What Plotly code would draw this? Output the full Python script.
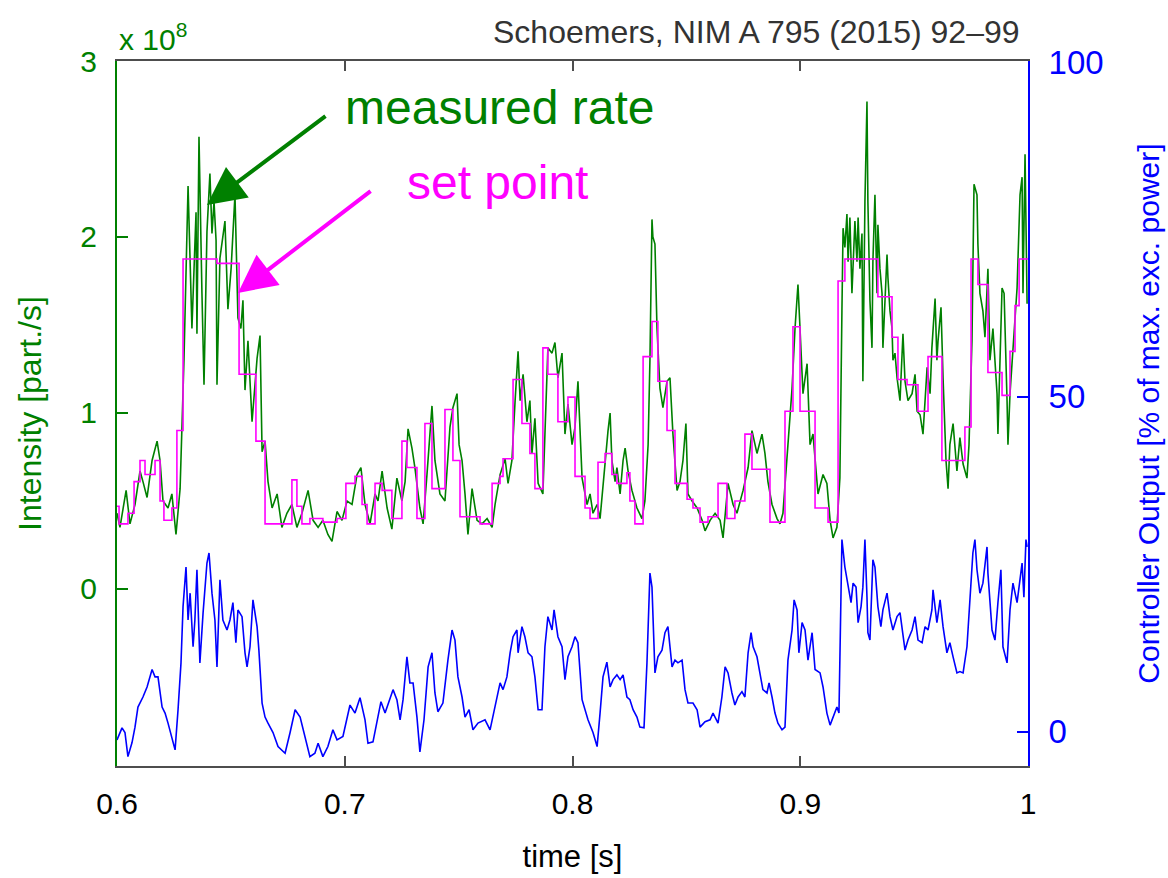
import plotly.graph_objects as go

# ---------------- data ----------------
# measured rate (units of 1e8 particles/s)
green_t = [0.6000,0.6013,0.6040,0.6057,0.6079,0.6101,0.6114,0.6132,0.6154,0.6176,0.6189,0.6202,0.6224,0.6241,0.6259,0.6277,
0.6294,0.6312,0.6329,0.6347,0.6351,0.6360,0.6373,0.6382,0.6395,0.6408,0.6417,0.6426,0.6435,0.6439,0.6452,0.6474,0.6487,0.6501,
0.6518,0.6531,0.6544,0.6553,0.6562,0.6575,0.6593,0.6615,0.6628,0.6637,0.6650,0.6663,0.6681,0.6703,0.6724,0.6746,0.6768,0.6790,
0.6812,0.6839,0.6861,0.6883,0.6904,0.6926,0.6944,0.6966,0.6988,0.7010,0.7032,0.7054,0.7071,0.7089,0.7111,0.7133,0.7146,0.7164,
0.7186,0.7207,0.7229,0.7251,0.7265,0.7278,0.7295,0.7308,0.7330,0.7344,0.7361,0.7383,0.7396,0.7418,0.7440,0.7462,0.7475,0.7493,
0.7502,0.7515,0.7528,0.7541,0.7559,0.7581,0.7603,0.7625,0.7647,0.7660,0.7682,0.7704,0.7717,0.7734,0.7748,0.7761,0.7770,0.7783,
0.7800,0.7813,0.7822,0.7835,0.7849,0.7870,0.7879,0.7892,0.7910,0.7923,0.7936,0.7954,0.7967,0.7980,0.7998,0.8011,0.8024,0.8042,
0.8064,0.8077,0.8090,0.8108,0.8121,0.8143,0.8156,0.8165,0.8173,0.8187,0.8195,0.8209,0.8222,0.8231,0.8244,0.8261,0.8283,0.8305,
0.8318,0.8332,0.8340,0.8349,0.8353,0.8362,0.8371,0.8384,0.8397,0.8415,0.8428,0.8441,0.8459,0.8472,0.8485,0.8498,0.8507,0.8525,
0.8547,0.8569,0.8582,0.8604,0.8626,0.8648,0.8661,0.8683,0.8705,0.8722,0.8749,0.8771,0.8788,0.8810,0.8832,0.8845,0.8858,0.8876,
0.8898,0.8911,0.8924,0.8946,0.8964,0.8977,0.8990,0.8999,0.9012,0.9030,0.9043,0.9056,0.9078,0.9100,0.9117,0.9131,0.9144,0.9161,
0.9174,0.9183,0.9188,0.9196,0.9205,0.9210,0.9218,0.9227,0.9232,0.9240,0.9249,0.9254,0.9262,0.9271,0.9275,0.9284,0.9293,0.9297,
0.9306,0.9315,0.9319,0.9328,0.9337,0.9341,0.9350,0.9359,0.9363,0.9372,0.9381,0.9385,0.9394,0.9403,0.9407,0.9416,0.9425,0.9438,
0.9447,0.9451,0.9460,0.9473,0.9491,0.9504,0.9513,0.9526,0.9539,0.9557,0.9570,0.9578,0.9592,0.9600,0.9605,0.9618,0.9627,0.9640,
0.9649,0.9657,0.9671,0.9688,0.9701,0.9715,0.9732,0.9741,0.9754,0.9763,0.9776,0.9780,0.9789,0.9802,0.9811,0.9824,0.9833,0.9846,
0.9864,0.9868,0.9886,0.9895,0.9908,0.9912,0.9921,0.9934,0.9952,0.9965,0.9974,0.9978,0.9987,0.9996]
green_v = [0.43,0.35,0.56,0.37,0.48,0.67,0.61,0.52,0.73,0.84,0.73,0.50,0.46,0.54,0.31,0.57,
1.30,2.29,1.48,2.14,1.45,2.57,1.68,1.16,2.03,2.36,2.02,2.20,1.98,1.16,1.88,2.09,1.59,1.82,
2.24,1.54,1.48,1.64,1.13,1.41,0.95,1.31,1.44,0.78,0.84,0.61,0.46,0.54,0.35,0.43,0.48,0.35,
0.43,0.56,0.39,0.35,0.39,0.31,0.27,0.44,0.39,0.50,0.48,0.65,0.69,0.48,0.37,0.54,0.50,0.67,
0.46,0.34,0.63,0.50,0.61,0.91,0.80,0.69,0.46,0.37,0.65,1.04,0.73,0.54,0.50,0.92,1.03,1.11,
0.82,0.73,0.54,0.31,0.57,0.39,0.37,0.40,0.35,0.48,0.65,0.74,0.60,0.73,1.07,1.35,1.07,1.22,
0.95,1.07,0.77,0.97,0.60,0.54,0.88,1.37,1.34,1.40,1.20,1.34,0.88,1.05,0.82,0.92,1.18,0.63,
0.48,0.54,0.43,0.48,0.40,0.73,0.90,1.00,0.73,0.61,0.69,0.54,0.73,0.80,0.67,0.56,0.46,0.40,
0.50,0.82,1.30,2.10,2.00,1.96,1.48,1.14,1.03,1.18,1.20,0.88,0.56,0.61,0.73,0.94,0.54,0.50,
0.46,0.39,0.33,0.39,0.43,0.39,0.29,0.60,0.48,0.43,0.56,0.69,0.90,0.77,0.88,0.77,0.61,0.48,
0.40,0.37,0.43,0.82,1.14,1.48,1.73,1.48,1.11,1.28,0.82,0.88,0.54,0.65,0.60,0.39,0.29,0.35,
0.63,1.58,2.05,1.94,2.13,1.86,2.11,1.68,1.82,2.09,1.86,2.11,1.82,2.02,1.18,2.20,2.77,2.20,
1.64,1.37,1.86,2.24,1.68,2.07,1.82,1.68,1.37,1.68,1.90,1.77,1.58,1.48,1.30,1.34,1.20,1.07,
1.30,1.45,1.18,1.07,1.11,1.22,1.01,0.99,0.88,1.26,1.11,1.37,1.65,1.30,1.41,1.60,1.20,0.73,
0.57,0.82,0.94,0.67,0.86,0.71,0.63,0.82,1.41,2.30,2.24,1.96,1.68,1.58,1.43,1.82,1.30,1.48,
1.11,0.88,1.71,1.68,1.07,0.82,1.11,1.34,1.71,2.24,2.34,1.68,2.47,1.62]

# set point (units of 1e8 particles/s), step changes
sp_t = [0.6000,0.6009,0.6048,0.6075,0.6101,0.6123,0.6167,0.6189,0.6206,0.6241,0.6263,0.6290,0.6439,0.6536,0.6610,0.6650,
0.6768,0.6790,0.6812,0.6847,0.6904,0.6966,0.7005,0.7045,0.7076,0.7098,0.7133,0.7164,0.7207,0.7251,0.7273,0.7317,0.7352,
0.7383,0.7440,0.7475,0.7506,0.7594,0.7647,0.7682,0.7695,0.7739,0.7778,0.7813,0.7835,0.7870,0.7892,0.7936,0.7980,0.8011,
0.8055,0.8077,0.8112,0.8143,0.8173,0.8195,0.8239,0.8252,0.8274,0.8310,0.8349,0.8375,0.8415,0.8450,0.8503,0.8529,0.8560,
0.8595,0.8639,0.8678,0.8713,0.8757,0.8788,0.8867,0.8933,0.8968,0.8999,0.9065,0.9122,0.9166,0.9196,0.9341,0.9403,0.9429,
0.9469,0.9517,0.9561,0.9622,0.9723,0.9750,0.9780,0.9824,0.9886,0.9921,0.9943,0.9961,1.0000]
sp_v = [0.47,0.37,0.43,0.61,0.73,0.65,0.73,0.50,0.39,0.46,0.90,1.875,1.85,1.22,0.84,0.37,
0.62,0.47,0.37,0.40,0.38,0.40,0.60,0.64,0.48,0.37,0.60,0.56,0.40,0.84,0.69,0.40,0.94,
0.57,1.02,0.73,0.41,0.37,0.60,0.64,0.74,1.19,0.94,0.77,0.57,1.37,1.22,0.95,1.09,0.64,
0.46,0.40,0.72,0.77,0.65,0.60,0.66,0.50,0.37,1.32,1.52,1.18,0.90,0.60,0.51,0.46,0.38,
0.41,0.60,0.40,0.50,0.88,0.68,0.38,1.01,1.49,1.01,0.46,0.38,1.75,1.875,1.66,1.43,1.19,
1.16,1.01,1.32,0.73,0.92,1.875,1.73,1.23,1.10,1.35,1.61,1.875,1.875]

# controller output (% of max. exc. power)
ctrl_t = [0.6000,0.6022,0.6035,0.6048,0.6066,0.6079,0.6092,0.6114,0.6132,0.6154,0.6167,0.6180,0.6198,0.6211,0.6224,0.6241,
0.6255,0.6268,0.6281,0.6290,0.6303,0.6312,0.6321,0.6334,0.6342,0.6351,0.6364,0.6378,0.6395,0.6404,0.6417,0.6430,0.6439,
0.6452,0.6465,0.6483,0.6496,0.6509,0.6522,0.6531,0.6549,0.6562,0.6571,0.6584,0.6597,0.6615,0.6623,0.6637,0.6650,0.6663,
0.6685,0.6707,0.6738,0.6760,0.6782,0.6804,0.6825,0.6847,0.6869,0.6883,0.6904,0.6926,0.6948,0.6966,0.6992,0.7023,0.7045,
0.7067,0.7089,0.7102,0.7124,0.7142,0.7159,0.7177,0.7190,0.7212,0.7229,0.7243,0.7256,0.7273,0.7286,0.7300,0.7317,0.7330,
0.7348,0.7366,0.7383,0.7396,0.7409,0.7431,0.7453,0.7471,0.7484,0.7497,0.7515,0.7528,0.7546,0.7563,0.7585,0.7616,0.7638,
0.7660,0.7682,0.7695,0.7712,0.7726,0.7739,0.7756,0.7761,0.7778,0.7791,0.7805,0.7822,0.7835,0.7849,0.7866,0.7879,0.7892,
0.7910,0.7919,0.7936,0.7954,0.7967,0.7980,0.7998,0.8011,0.8024,0.8042,0.8068,0.8090,0.8108,0.8121,0.8134,0.8151,0.8165,
0.8178,0.8195,0.8209,0.8222,0.8239,0.8252,0.8266,0.8283,0.8296,0.8314,0.8327,0.8340,0.8349,0.8353,0.8362,0.8375,0.8393,
0.8406,0.8419,0.8437,0.8450,0.8463,0.8481,0.8494,0.8507,0.8529,0.8547,0.8560,0.8582,0.8604,0.8617,0.8639,0.8656,0.8670,
0.8683,0.8700,0.8713,0.8727,0.8744,0.8757,0.8771,0.8784,0.8793,0.8810,0.8823,0.8836,0.8854,0.8863,0.8876,0.8889,0.8902,
0.8920,0.8933,0.8946,0.8964,0.8973,0.8986,0.8994,0.9008,0.9021,0.9034,0.9052,0.9065,0.9087,0.9100,0.9117,0.9131,0.9144,
0.9161,0.9170,0.9179,0.9183,0.9196,0.9210,0.9223,0.9232,0.9245,0.9254,0.9267,0.9275,0.9284,0.9293,0.9297,0.9306,0.9319,
0.9328,0.9341,0.9354,0.9363,0.9381,0.9394,0.9407,0.9425,0.9438,0.9447,0.9460,0.9473,0.9491,0.9504,0.9517,0.9535,0.9548,
0.9561,0.9578,0.9583,0.9600,0.9614,0.9627,0.9644,0.9657,0.9671,0.9688,0.9701,0.9715,0.9732,0.9745,0.9758,0.9767,0.9776,
0.9789,0.9802,0.9820,0.9824,0.9842,0.9855,0.9868,0.9881,0.9890,0.9908,0.9921,0.9934,0.9952,0.9960,0.9974,0.9982,0.9991,0.9996]
ctrl_v = [-1.2,0.6,-0.1,-3.7,-1.6,0.7,3.7,5.2,6.7,9.3,8.2,8.2,3.7,2.8,1.3,-0.7,
-2.7,3.3,10.3,18.7,24.6,16.7,20.7,12.7,16.7,24.2,10.3,17.8,25.2,26.7,20.7,16.7,9.7,
22.7,16.7,15.2,16.7,19.3,13.3,18.2,17.2,11.8,9.7,12.7,19.7,15.7,12.2,4.3,2.2,1.3,
-0.1,-2.2,-3.2,-0.1,3.3,2.2,-0.7,-3.7,-3.2,-1.7,-3.7,-2.2,0.3,-1.2,-0.7,4.0,2.8,
5.1,1.8,-1.7,-1.5,1.8,4.5,2.8,4.0,6.3,4.8,1.8,4.8,11.2,7.3,7.3,2.2,-3.0,
1.8,9.7,11.8,5.8,3.0,4.3,10.7,15.2,13.7,8.2,5.2,2.2,3.3,0.3,1.3,1.8,0.3,
3.7,7.3,6.3,8.2,11.8,14.2,15.2,11.8,15.7,14.2,11.8,11.2,8.2,3.3,3.3,12.7,17.2,
15.2,18.2,14.2,12.7,7.8,11.2,12.7,14.2,13.3,4.8,1.8,-0.1,-2.2,2.8,8.2,10.4,6.7,
7.8,8.5,7.8,8.5,5.2,4.8,3.3,2.2,0.7,0.6,10.3,23.7,21.6,17.8,8.8,11.2,12.2,
14.8,15.7,9.7,10.7,10.3,10.7,6.3,4.3,4.3,3.3,0.7,1.5,1.8,2.8,1.3,5.2,9.7,
8.8,5.8,4.0,5.2,6.0,5.2,11.8,14.8,12.7,11.2,8.8,6.3,5.8,7.3,5.2,2.8,1.3,
0.3,0.7,10.7,15.2,19.7,18.2,11.8,16.3,15.2,10.7,14.8,9.3,8.8,6.7,2.8,1.0,2.2,
3.7,2.8,19.7,28.7,24.6,21.6,19.3,22.2,21.6,16.3,18.7,21.6,28.7,20.1,14.8,13.7,25.7,
24.6,18.7,15.7,18.2,20.7,17.2,15.2,17.2,17.8,15.2,12.2,13.7,15.2,17.2,13.7,13.3,15.7,
15.2,18.2,21.2,16.3,19.7,15.7,11.8,13.3,11.2,8.8,9.0,8.8,12.7,19.7,26.7,28.7,24.2,
20.7,22.2,27.6,23.7,15.2,13.7,19.3,24.2,12.7,10.3,18.2,22.2,19.3,21.6,25.2,20.1,28.7,27.6]

x_ticks = [0.6, 0.7, 0.8, 0.9, 1.0]
x_ticklabels = ["0.6", "0.7", "0.8", "0.9", "1"]
y_ticks = [0, 1, 2, 3]
y2_ticks = [0, 50, 100]

# ---------------- styling ----------------
FONT = "Liberation Sans, Arial, Helvetica, sans-serif"
GREEN = "#008000"
MAG = "#FF00FF"
BLUE = "#0000FF"
AXGRAY = "#4d4d4d"

fig = go.Figure()
fig.add_trace(go.Scatter(x=green_t, y=green_v, mode="lines",
                         line=dict(color=GREEN, width=1.6), yaxis="y", hoverinfo="skip"))
fig.add_trace(go.Scatter(x=sp_t, y=sp_v, mode="lines",
                         line=dict(color=MAG, width=1.6, shape="hv"), yaxis="y", hoverinfo="skip"))
fig.add_trace(go.Scatter(x=ctrl_t, y=ctrl_v, mode="lines",
                         line=dict(color=BLUE, width=1.6), yaxis="y2", hoverinfo="skip"))

fig.update_layout(
    width=1168, height=878,
    margin=dict(l=117, r=140, t=61, b=112, pad=0, autoexpand=False),
    paper_bgcolor="white", plot_bgcolor="white",
    showlegend=False,
    font=dict(family=FONT, size=30, color="black"),
    xaxis=dict(range=[0.6, 1.0], tickvals=x_ticks, ticktext=x_ticklabels,
               ticks="inside", ticklen=10, tickwidth=2, tickcolor=AXGRAY,
               showline=True, linecolor=AXGRAY, linewidth=2, mirror="ticks",
               showgrid=False, zeroline=False, automargin=False,
               tickfont=dict(family=FONT, size=30, color="black"),
               ticklabelstandoff=10,
               title=dict(text="time [s]", font=dict(family=FONT, size=31, color="black"), standoff=26)),
    yaxis=dict(range=[-1.006, 3.0], tickvals=y_ticks,
               ticks="inside", ticklen=11, tickwidth=2, tickcolor=GREEN,
               showline=True, linecolor=GREEN, linewidth=2,
               showgrid=False, zeroline=False, automargin=False,
               tickfont=dict(family=FONT, size=30, color=GREEN),
               ticklabelstandoff=12,
               title=dict(text="Intensity [part./s]", font=dict(family=FONT, size=32, color=GREEN), standoff=29)),
    yaxis2=dict(range=[-5.1, 100.15], tickvals=y2_ticks, overlaying="y", side="right",
                ticks="inside", ticklen=11, tickwidth=2, tickcolor=BLUE,
                showline=True, linecolor=BLUE, linewidth=2,
                showgrid=False, zeroline=False, automargin=False,
                tickfont=dict(family=FONT, size=33, color=BLUE),
                ticklabelstandoff=12,
                title=dict(text="Controller Output [% of max. exc. power]",
                           font=dict(family=FONT, size=30, color=BLUE), standoff=35)),
)

annotations = [
    dict(text="x 10<sup>8</sup>", xref="paper", yref="paper", x=0.0, y=1.0,
         xanchor="left", yanchor="bottom", showarrow=False, yshift=3,
         font=dict(family=FONT, size=30, color=GREEN)),
    dict(text="Schoemers, NIM A 795 (2015) 92\u201399", xref="paper", yref="paper",
         x=(1022 - 117) / 911, y=1.041, xanchor="right", yanchor="middle", showarrow=False,
         font=dict(family=FONT, size=32, color="#333333")),
    dict(text="measured rate", xref="x", yref="y", x=0.7682, y=2.733,
         xanchor="center", yanchor="middle", showarrow=False,
         font=dict(family=FONT, size=48, color=GREEN)),
    dict(text="set point", xref="x", yref="y", x=0.7669, y=2.307,
         xanchor="center", yanchor="middle", showarrow=False,
         font=dict(family=FONT, size=48, color=MAG)),
    dict(text="", xref="x", yref="y", x=0.6395, y=2.182,
         axref="x", ayref="y", ax=0.6922, ay=2.693,
         showarrow=True, arrowhead=2, arrowsize=1.9, arrowwidth=4, arrowcolor=GREEN),
    dict(text="", xref="x", yref="y", x=0.6531, y=1.682,
         axref="x", ayref="y", ax=0.7120, ay=2.267,
         showarrow=True, arrowhead=2, arrowsize=1.9, arrowwidth=4, arrowcolor=MAG),
]
fig.update_layout(annotations=annotations)

fig.write_html("out.html")
